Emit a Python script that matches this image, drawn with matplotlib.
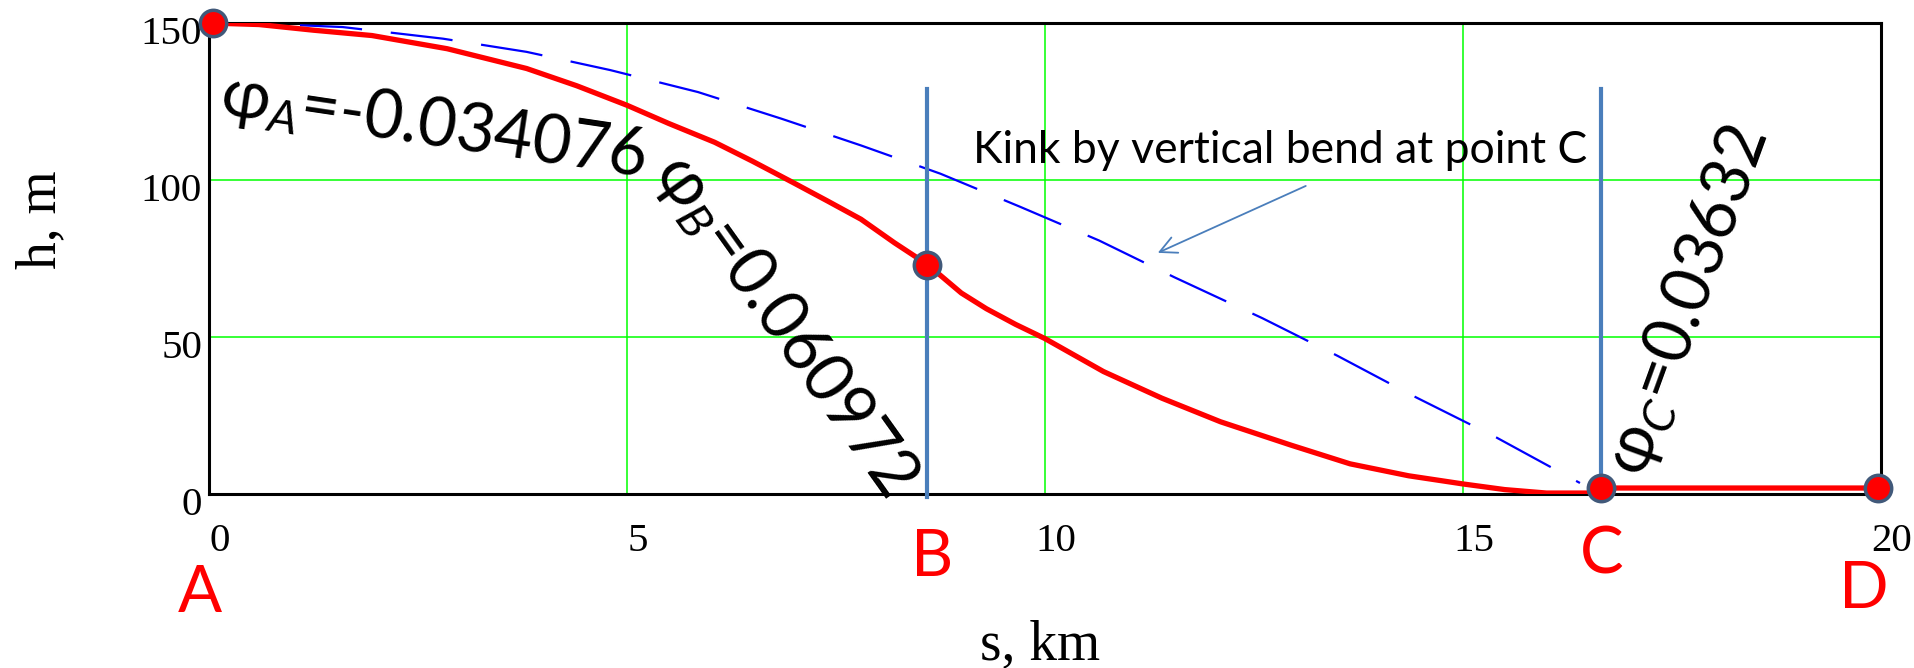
import matplotlib
matplotlib.use("Agg")
import matplotlib.pyplot as plt
import matplotlib.transforms as mtransforms

# --- datos (s en km, h en m) ---
s_perfil = [0, 0.6, 1.25, 1.95, 2.85, 3.8, 4.4, 5.0, 5.5, 6.05, 6.5, 7.0, 7.4, 7.8, 8.2,
            8.6, 9.0, 9.3, 9.65, 10.0, 10.7, 11.4, 12.1, 12.95, 13.65, 14.35, 15.0, 15.5,
            16.0, 16.6, 16.65, 19.96]
h_perfil = [150, 149.5, 147.7, 146, 141.8, 135.5, 130, 123.8, 118, 112, 106, 99, 93.3, 87.5, 80,
            73, 64, 59, 54, 49.5, 39, 30.5, 23, 15.5, 9.6, 5.8, 3.2, 1.4,
            0.3, 0.3, 1.9, 1.9]

s_kink = [0, 0.8, 1.6, 2.8, 3.8, 4.8, 5.85, 6.85, 7.8, 8.75, 9.7, 10.65, 11.55, 12.6,
          13.5, 14.4, 15.4, 16.4]
h_kink = [150, 149.6, 148.7, 145, 140.8, 135, 128, 119.5, 111, 102, 91.5, 80.7, 69, 56,
          44, 31.3, 18, 3.5]

puntos = ["A", "B", "C", "D"]
s_puntos = [0.05, 8.59, 16.65, 19.96]
h_puntos = [150, 73, 1.9, 1.9]

s_verticales = [8.59, 16.65]
h_vertical_top = 129

x_ticks = [0, 5, 10, 15, 20]
y_ticks = [0, 50, 100, 150]

angulos = ["$\\mathrm{φ}_{A}$=-0.034076", "$\\mathrm{φ}_{B}$=0.060972", "$\\mathrm{φ}_{C}$=0.03632"]

plt.rcParams["mathtext.fontset"] = "custom"
plt.rcParams["mathtext.rm"] = "Lato"
plt.rcParams["mathtext.it"] = "Lato:italic"

SANS = ["Lato", "DejaVu Sans"]
SERIF = "Liberation Serif"
ROJO = "#ff0000"
AZUL_LINEA = "#4a7ebb"
VERDE = "#00ff00"

fig = plt.figure(figsize=(19.15, 6.68), dpi=100)
ax = fig.add_axes([0.1091, 0.2605, 0.8731, 0.7051])

# --- 1. curvas ---
ax.plot(s_kink, h_kink, color="#0000ff", lw=1.6, linestyle=(0, (28, 13)), zorder=3)
ax.plot(s_perfil, h_perfil, color=ROJO, lw=3.8, zorder=4)

for sv in s_verticales:
    ax.plot([sv, sv], [-1, h_vertical_top], color=AZUL_LINEA, lw=3, zorder=5, clip_on=False)

ax.plot(s_puntos, h_puntos, "o", ms=19, mfc=ROJO, mec="#41597a", mew=2.5,
        zorder=6, clip_on=False)

# --- 2. ejes y grilla ---
ax.set_xlim(0, 20)
ax.set_ylim(0, 150)
ax.set_xticks(x_ticks)
ax.set_yticks(y_ticks)
ax.grid(True, color=VERDE, lw=1.1)
ax.set_axisbelow(True)
for sp in ax.spines.values():
    sp.set_linewidth(2.2)
    sp.set_color("black")
ax.tick_params(length=0)
ax.tick_params(axis="x", pad=21)
ax.tick_params(axis="y", pad=5)
for lab in ax.get_xticklabels() + ax.get_yticklabels():
    lab.set_fontfamily(SERIF)
    lab.set_fontsize(29.5)
for lab in ax.get_xticklabels():
    lab.set_transform(lab.get_transform() + mtransforms.ScaledTranslation(8 / 72, 0, fig.dpi_scale_trans))
for lab in ax.get_yticklabels():
    lab.set_transform(lab.get_transform() + mtransforms.ScaledTranslation(0, -5 / 72, fig.dpi_scale_trans))

fig.text(0.0214, 0.671, "h, m", rotation=90, ha="center", va="center",
         fontfamily=SERIF, fontsize=40)
fig.text(0.543, 0.034, "s, km", ha="center", va="center", fontfamily=SERIF, fontsize=40)

# --- 3. textos de angulos ---
ax.text(2.69, 117.2, angulos[0], rotation=-8.5, rotation_mode="anchor",
        ha="center", va="center", fontsize=48, family=SANS, zorder=7)
ax.text(6.89, 54, angulos[1], rotation=-54.5, rotation_mode="anchor",
        ha="center", va="center", fontsize=48, family=SANS, zorder=7)
ax.text(17.69, 61.5, angulos[2], rotation=70, rotation_mode="anchor",
        ha="center", va="center", fontsize=48, family=SANS, zorder=7)

ax.text(9.14, 105.4, "Kink by vertical bend at point C", ha="left", va="baseline",
        fontsize=32, family=SANS, zorder=7)
ax.annotate("", xy=(11.35, 76.8), xytext=(13.12, 98.1),
            arrowprops=dict(arrowstyle="->", color=AZUL_LINEA, lw=1.3,
                            mutation_scale=30, shrinkA=0, shrinkB=0))

# --- 4. letras de los puntos ---
y_letras = [0.112, 0.165, 0.169, 0.118]
x_letras = [-0.11, 8.65, 16.66, 19.8]
for nombre, xl, yl in zip(puntos, x_letras, y_letras):
    ax.annotate(nombre, xy=(xl, yl), xycoords=("data", "figure fraction"),
                ha="center", va="center", fontsize=47, color=ROJO, family=SANS,
                annotation_clip=False)

fig.savefig("out.png", dpi=100)
